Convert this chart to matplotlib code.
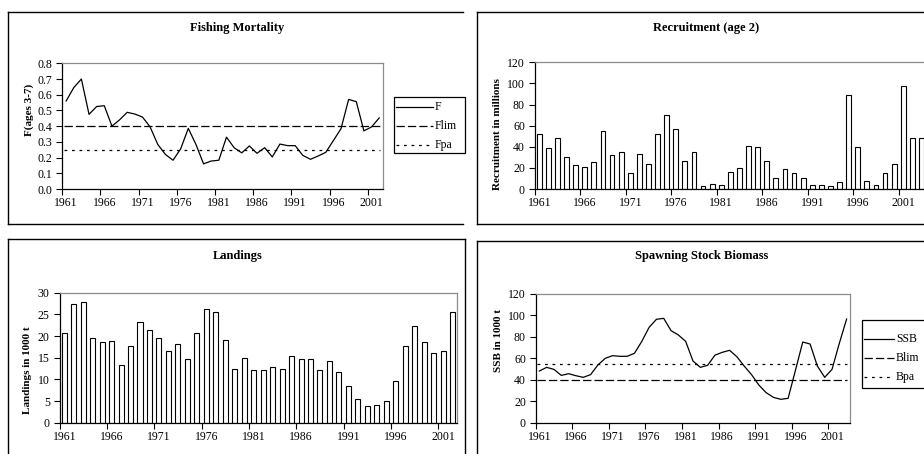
import matplotlib
matplotlib.use("Agg")
import matplotlib.pyplot as plt
from matplotlib.lines import Line2D
from matplotlib.patches import Rectangle

plt.rcParams['font.family'] = ['Liberation Serif', 'DejaVu Serif']
plt.rcParams['lines.scale_dashes'] = False

# ---- data -------------------------------------------------------------
years_f = list(range(1961, 2003))
f_values = [0.56, 0.645, 0.70, 0.475, 0.525, 0.53, 0.40, 0.44, 0.488, 0.477,
            0.458, 0.395, 0.284, 0.22, 0.183, 0.255, 0.386, 0.284, 0.16, 0.178,
            0.183, 0.33, 0.263, 0.23, 0.274, 0.227, 0.263, 0.204, 0.286, 0.276,
            0.276, 0.214, 0.189, 0.21, 0.233, 0.308, 0.384, 0.57, 0.556, 0.37,
            0.395, 0.452]
f_lim = 0.40
f_pa = 0.25

years_rec = list(range(1961, 2004))
recruitment = [52, 38.5, 48, 30.5, 23, 21, 26, 54.5, 32, 35.5,
               15.5, 33, 24, 52.5, 70, 56.5, 26.5, 35, 3, 5,
               4, 16, 20, 40.5, 39.5, 26.5, 10, 19, 15, 10,
               3.5, 3.5, 2.5, 7, 89, 39.5, 8, 3.5, 15.5, 24,
               97.5, 48, 48]

years_land = list(range(1961, 2003))
landings = [20.8, 27.3, 27.8, 19.5, 18.6, 18.8, 13.4, 17.8, 23.3, 21.4,
            19.5, 16.5, 18.1, 14.8, 20.7, 26.3, 25.5, 19.2, 12.5, 15.0,
            12.2, 12.1, 12.9, 12.5, 15.3, 14.6, 14.8, 12.2, 14.3, 11.8,
            8.5, 5.5, 3.9, 4.2, 4.9, 9.7, 17.8, 22.3, 18.6, 16.0,
            16.5, 25.6]

years_ssb = list(range(1961, 2004))
ssb = [48.2, 51.6, 49.7, 44.1, 45.7, 43.8, 42.3, 44.8, 53.8, 60.0,
       62.5, 61.9, 61.9, 64.7, 75.8, 88.9, 96.4, 97.3, 85.8, 81.8,
       75.8, 57.5, 51.6, 53.5, 63.0, 65.6, 67.5, 61.5, 52.8, 44.8,
       35.1, 28.0, 23.6, 21.8, 22.7, 48.8, 75.2, 73.4, 52.8, 42.3,
       49.7, 74.0, 96.7]
b_lim = 40
b_pa = 55

year_ticks = list(range(1961, 2002, 5))

# ---- layout helpers (pixel coordinates, origin top-left) ----------------
W, H = 924, 454
fig = plt.figure(figsize=(W / 100, H / 100), dpi=100)
fig.patch.set_facecolor('white')


def fx(x):
    return x / W


def fy(y):
    return 1 - y / H


def rect(x0, y0, x1, y1):
    return [fx(x0), fy(y1), (x1 - x0) / W, (y1 - y0) / H]


LIM_STYLE = dict(color='black', lw=0.9, dashes=(6.0, 2.2))
PA_STYLE = dict(color='black', lw=0.9, dashes=(2.0, 3.4))
MAIN_STYLE = dict(color='black', lw=0.9)
TICK_FS = 8.5


def style_axes(ax, first_year, n_years, yticks, ylim, fmt):
    ax.set_xlim(first_year - 0.5, first_year + n_years - 0.5)
    ax.set_xticks([t - 0.5 for t in year_ticks])
    ax.set_xticklabels([])
    ax.set_xticks(year_ticks, minor=True)
    ax.set_xticklabels([str(t) for t in year_ticks], minor=True,
                       fontsize=TICK_FS)
    ax.tick_params(axis='x', which='major', length=4, width=0.8,
                   direction='out', color='black')
    ax.tick_params(axis='x', which='minor', length=0, pad=6.0)
    ax.set_ylim(*ylim)
    ax.set_yticks(yticks)
    ax.set_yticklabels([fmt(v) for v in yticks], fontsize=TICK_FS)
    ax.tick_params(axis='y', length=4, width=0.8, direction='out', pad=3)
    for side in ('left', 'bottom'):
        ax.spines[side].set_color('black')
        ax.spines[side].set_linewidth(0.9)
    for side in ('top', 'right'):
        ax.spines[side].set_color('#8c8c8c')
        ax.spines[side].set_linewidth(0.9)
    ax.set_facecolor('white')


def frame_edges(x0, y0, x1, y1, sides):
    segs = {
        'top': ([x0, x1], [y0, y0]),
        'bottom': ([x0, x1], [y1, y1]),
        'left': ([x0, x0], [y0, y1]),
        'right': ([x1, x1], [y0, y1]),
    }
    for side in sides:
        xs, ys = segs[side]
        fig.add_artist(Line2D([fx(v) for v in xs], [fy(v) for v in ys],
                              transform=fig.transFigure, color='black',
                              lw=1.0, solid_capstyle='projecting'))


def key_box(x0, y0, x1, y1, entries, line_end, text_x):
    fig.add_artist(Rectangle((fx(x0), fy(y1)), (x1 - x0) / W, (y1 - y0) / H,
                             transform=fig.transFigure, fill=True,
                             fc='white', ec='black', lw=0.9))
    for (label, style, yc) in entries:
        fig.add_artist(Line2D([fx(x0 + 2), fx(line_end)], [fy(yc), fy(yc)],
                              transform=fig.transFigure, **style))
        fig.text(fx(text_x), fy(yc), label, ha='left', va='center',
                 fontsize=TICK_FS)


def title(x, y, s):
    fig.text(fx(x), fy(y), s, ha='center', va='center',
             fontsize=9, fontweight='bold')


def ylabel(x, y, s):
    fig.text(fx(x), fy(y), s, ha='center', va='center', rotation=90,
             fontsize=8, fontweight='bold')


# ---- panel frames ---------------------------------------------------------
frame_edges(8, 12, 463, 224, ('top', 'bottom', 'left'))
frame_edges(477, 12, 990, 224, ('top', 'bottom', 'left'))
frame_edges(8, 239, 465, 500, ('top', 'left', 'right'))
frame_edges(477, 241, 990, 500, ('top', 'left'))

# ---- Fishing mortality ----------------------------------------------------
ax1 = fig.add_axes(rect(62.3, 63.3, 383, 189))
ax1.plot(years_f, f_values, **MAIN_STYLE)
ax1.axhline(f_lim, xmin=0.005, xmax=0.99, **LIM_STYLE)
ax1.axhline(f_pa, xmin=0.005, xmax=0.99, **PA_STYLE)
style_axes(ax1, 1961, len(years_f), [i / 10 for i in range(9)], (0, 0.8),
           lambda v: f"{v:.1f}")
title(237.5, 28, 'Fishing Mortality')
ylabel(29, 110, 'F(ages 3-7)')
key_box(394, 97, 465, 153,
        [('F', MAIN_STYLE, 107), ('Flim', LIM_STYLE, 126),
         ('Fpa', PA_STYLE, 145)], 433, 435)

# ---- Recruitment ----------------------------------------------------------
ax2 = fig.add_axes(rect(534.7, 62.3, 534.7 + 9.1 * len(years_rec), 189))
ax2.bar(years_rec, recruitment, width=0.52, color='white',
        edgecolor='black', linewidth=0.8)
style_axes(ax2, 1961, len(years_rec), list(range(0, 121, 20)), (0, 120),
           lambda v: f"{v:.0f}")
title(706, 28, 'Recruitment (age 2)')
ylabel(498, 134, 'Recruitment in millions')

# ---- Landings -------------------------------------------------------------
ax3 = fig.add_axes(rect(59.5, 292.7, 457.3, 422.7))
ax3.bar(years_land, landings, width=0.53, color='white',
        edgecolor='black', linewidth=0.8)
style_axes(ax3, 1961, len(years_land), list(range(0, 31, 5)), (0, 30),
           lambda v: f"{v:.0f}")
title(237.8, 256, 'Landings')
ylabel(28, 370, 'Landings in 1000 t')

# ---- Spawning stock biomass ----------------------------------------------
ax4 = fig.add_axes(rect(535.7, 294, 850.3, 422.7))
ax4.plot(years_ssb, ssb, **MAIN_STYLE)
ax4.axhline(b_lim, xmin=0.005, xmax=0.99, **LIM_STYLE)
ax4.axhline(b_pa, xmin=0.005, xmax=0.99, **PA_STYLE)
style_axes(ax4, 1961, len(years_ssb), list(range(0, 121, 20)), (0, 120),
           lambda v: f"{v:.0f}")
title(702, 256, 'Spawning Stock Biomass')
ylabel(498.5, 341, 'SSB in 1000 t')
key_box(862, 320, 990, 388,
        [('SSB', MAIN_STYLE, 339), ('Blim', LIM_STYLE, 358),
         ('Bpa', PA_STYLE, 377)], 894, 896)

fig.savefig('out.png', dpi=100, facecolor='white')
